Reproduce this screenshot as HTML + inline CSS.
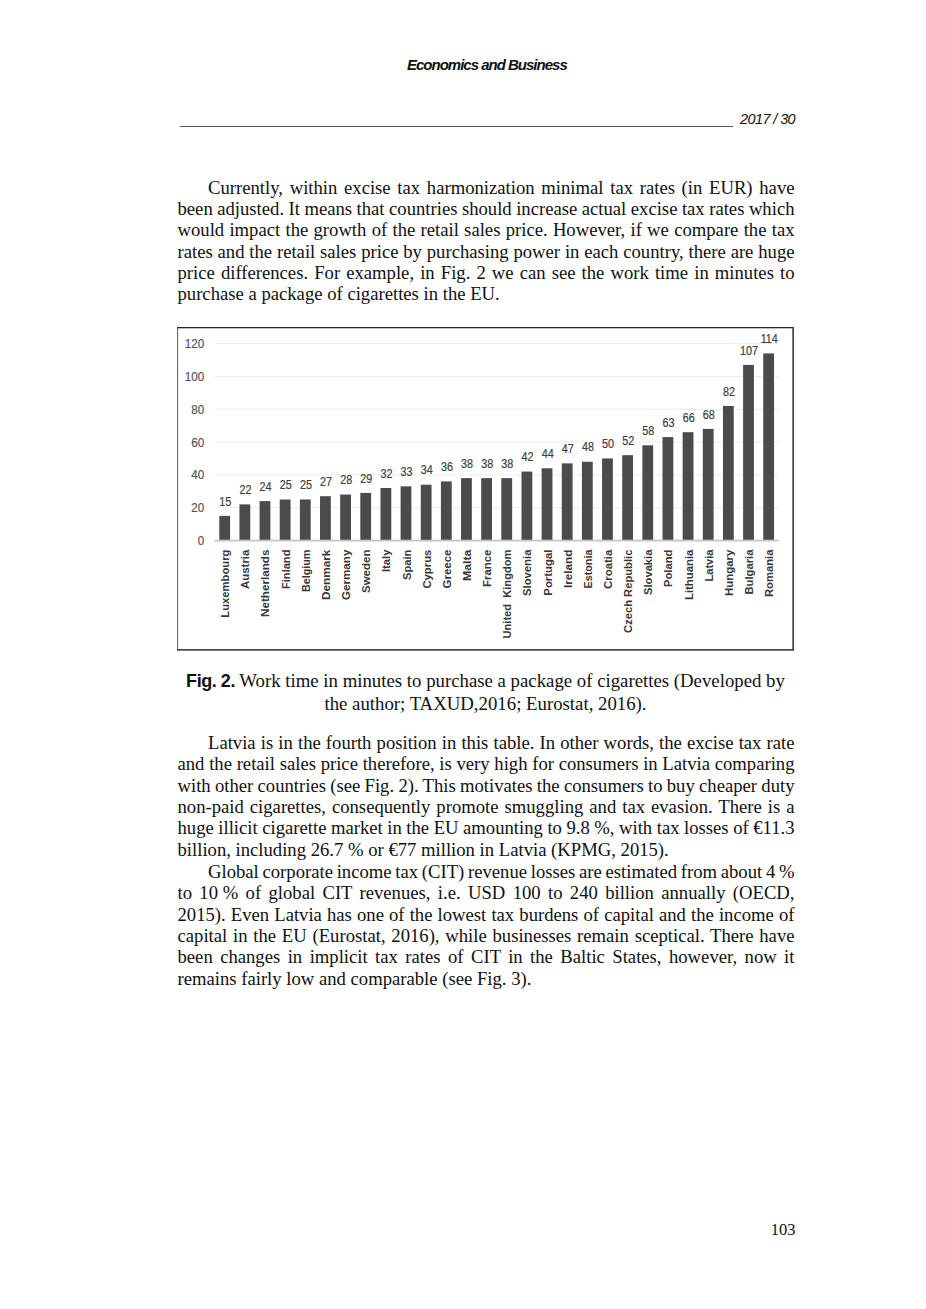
<!DOCTYPE html>
<html><head><meta charset="utf-8">
<style>
html,body{margin:0;padding:0;background:#fff;}
body{width:926px;height:1309px;position:relative;overflow:hidden;}
.hdr{position:absolute;font-family:"Liberation Sans",sans-serif;font-style:italic;color:#111;white-space:nowrap;}
.rule{position:absolute;left:179.5px;top:125.8px;width:553px;height:1px;background:#555;}
.p{position:absolute;left:177.5px;width:617px;font-family:"Liberation Serif",serif;font-size:18.67px;line-height:21.36px;color:#111;}
.p div{text-align:justify;text-align-last:justify;white-space:nowrap;}
.p div.l{text-align:left;text-align-last:left;}
.p div.i{padding-left:30.5px;}
.cap{position:absolute;left:177.5px;width:616px;font-family:"Liberation Serif",serif;font-size:18.8px;line-height:21.4px;color:#111;text-align:center;}
.cap b{font-family:"Liberation Sans",sans-serif;font-weight:bold;font-size:18px;letter-spacing:-0.45px;}
.pn{position:absolute;font-family:"Liberation Serif",serif;font-size:16.5px;color:#111;}
svg{position:absolute;left:0;top:0;}
.yl{font-family:"Liberation Sans",sans-serif;font-size:12.4px;fill:#555;stroke:#555;stroke-width:0.2px;}
.vl{font-family:"Liberation Sans",sans-serif;font-size:12px;fill:#404040;stroke:#404040;stroke-width:0.2px;}
.cl{font-family:"Liberation Sans",sans-serif;font-size:11px;font-weight:bold;fill:#383838;}
</style></head><body>
<div class="hdr" style="left:407px;top:56px;font-size:15px;font-weight:bold;letter-spacing:-1px;">Economics and Business</div>
<div class="rule"></div>
<div class="hdr" style="left:740px;top:111px;font-size:14.5px;letter-spacing:-0.6px;">2017 / 30</div>

<div class="p" style="top:176.7px;">
<div class="i">Currently, within excise tax harmonization minimal tax rates (in EUR) have</div>
<div style="word-spacing:-0.192px">been adjusted. It means that countries should increase actual excise tax rates which</div>
<div>would impact the growth of the retail sales price. However, if we compare the tax</div>
<div>rates and the retail sales price by purchasing power in each country, there are huge</div>
<div>price differences. For example, in Fig. 2 we can see the work time in minutes to</div>
<div class="l">purchase a package of cigarettes in the EU.</div>
</div>

<svg width="926" height="1309" viewBox="0 0 926 1309">
<rect x="177" y="327" width="1.1" height="323.6" fill="#6a6a6a"/>
<rect x="177" y="327" width="617" height="1.3" fill="#262626"/>
<rect x="177" y="649" width="617" height="1.7" fill="#474747"/>
<rect x="792.3" y="327" width="1.7" height="323.6" fill="#474747"/>
<rect x="214.5" y="507.18" width="563.5" height="1" fill="#ebebeb"/>
<rect x="214.5" y="474.36" width="563.5" height="1" fill="#ebebeb"/>
<rect x="214.5" y="441.54" width="563.5" height="1" fill="#ebebeb"/>
<rect x="214.5" y="408.72" width="563.5" height="1" fill="#ebebeb"/>
<rect x="214.5" y="375.90" width="563.5" height="1" fill="#ebebeb"/>
<rect x="214.5" y="343.08" width="563.5" height="1" fill="#ebebeb"/>
<text transform="translate(204.3,545.00) scale(0.94,1)" class="yl" text-anchor="end">0</text>
<text transform="translate(204.3,512.18) scale(0.94,1)" class="yl" text-anchor="end">20</text>
<text transform="translate(204.3,479.36) scale(0.94,1)" class="yl" text-anchor="end">40</text>
<text transform="translate(204.3,446.54) scale(0.94,1)" class="yl" text-anchor="end">60</text>
<text transform="translate(204.3,413.72) scale(0.94,1)" class="yl" text-anchor="end">80</text>
<text transform="translate(204.3,380.90) scale(0.94,1)" class="yl" text-anchor="end">100</text>
<text transform="translate(204.3,348.08) scale(0.94,1)" class="yl" text-anchor="end">120</text>
<rect x="219.30" y="515.88" width="10.8" height="24.62" fill="#4b4b4b"/>
<text transform="translate(225.30,505.58) scale(0.9,1)" class="vl" text-anchor="middle">15</text>
<rect x="239.45" y="504.40" width="10.8" height="36.10" fill="#4b4b4b"/>
<text transform="translate(245.45,494.10) scale(0.9,1)" class="vl" text-anchor="middle">22</text>
<rect x="259.59" y="501.12" width="10.8" height="39.38" fill="#4b4b4b"/>
<text transform="translate(265.59,490.82) scale(0.9,1)" class="vl" text-anchor="middle">24</text>
<rect x="279.74" y="499.48" width="10.8" height="41.02" fill="#4b4b4b"/>
<text transform="translate(285.74,489.18) scale(0.9,1)" class="vl" text-anchor="middle">25</text>
<rect x="299.88" y="499.48" width="10.8" height="41.02" fill="#4b4b4b"/>
<text transform="translate(305.88,489.18) scale(0.9,1)" class="vl" text-anchor="middle">25</text>
<rect x="320.03" y="496.19" width="10.8" height="44.31" fill="#4b4b4b"/>
<text transform="translate(326.03,485.89) scale(0.9,1)" class="vl" text-anchor="middle">27</text>
<rect x="340.18" y="494.55" width="10.8" height="45.95" fill="#4b4b4b"/>
<text transform="translate(346.18,484.25) scale(0.9,1)" class="vl" text-anchor="middle">28</text>
<rect x="360.32" y="492.91" width="10.8" height="47.59" fill="#4b4b4b"/>
<text transform="translate(366.32,482.61) scale(0.9,1)" class="vl" text-anchor="middle">29</text>
<rect x="380.47" y="487.99" width="10.8" height="52.51" fill="#4b4b4b"/>
<text transform="translate(386.47,477.69) scale(0.9,1)" class="vl" text-anchor="middle">32</text>
<rect x="400.61" y="486.35" width="10.8" height="54.15" fill="#4b4b4b"/>
<text transform="translate(406.61,476.05) scale(0.9,1)" class="vl" text-anchor="middle">33</text>
<rect x="420.76" y="484.71" width="10.8" height="55.79" fill="#4b4b4b"/>
<text transform="translate(426.76,474.41) scale(0.9,1)" class="vl" text-anchor="middle">34</text>
<rect x="440.91" y="481.42" width="10.8" height="59.08" fill="#4b4b4b"/>
<text transform="translate(446.91,471.12) scale(0.9,1)" class="vl" text-anchor="middle">36</text>
<rect x="461.05" y="478.14" width="10.8" height="62.36" fill="#4b4b4b"/>
<text transform="translate(467.05,467.84) scale(0.9,1)" class="vl" text-anchor="middle">38</text>
<rect x="481.20" y="478.14" width="10.8" height="62.36" fill="#4b4b4b"/>
<text transform="translate(487.20,467.84) scale(0.9,1)" class="vl" text-anchor="middle">38</text>
<rect x="501.34" y="478.14" width="10.8" height="62.36" fill="#4b4b4b"/>
<text transform="translate(507.34,467.84) scale(0.9,1)" class="vl" text-anchor="middle">38</text>
<rect x="521.49" y="471.58" width="10.8" height="68.92" fill="#4b4b4b"/>
<text transform="translate(527.49,461.28) scale(0.9,1)" class="vl" text-anchor="middle">42</text>
<rect x="541.64" y="468.30" width="10.8" height="72.20" fill="#4b4b4b"/>
<text transform="translate(547.64,458.00) scale(0.9,1)" class="vl" text-anchor="middle">44</text>
<rect x="561.78" y="463.37" width="10.8" height="77.13" fill="#4b4b4b"/>
<text transform="translate(567.78,453.07) scale(0.9,1)" class="vl" text-anchor="middle">47</text>
<rect x="581.93" y="461.73" width="10.8" height="78.77" fill="#4b4b4b"/>
<text transform="translate(587.93,451.43) scale(0.9,1)" class="vl" text-anchor="middle">48</text>
<rect x="602.07" y="458.45" width="10.8" height="82.05" fill="#4b4b4b"/>
<text transform="translate(608.07,448.15) scale(0.9,1)" class="vl" text-anchor="middle">50</text>
<rect x="622.22" y="455.17" width="10.8" height="85.33" fill="#4b4b4b"/>
<text transform="translate(628.22,444.87) scale(0.9,1)" class="vl" text-anchor="middle">52</text>
<rect x="642.37" y="445.32" width="10.8" height="95.18" fill="#4b4b4b"/>
<text transform="translate(648.37,435.02) scale(0.9,1)" class="vl" text-anchor="middle">58</text>
<rect x="662.51" y="437.12" width="10.8" height="103.38" fill="#4b4b4b"/>
<text transform="translate(668.51,426.82) scale(0.9,1)" class="vl" text-anchor="middle">63</text>
<rect x="682.66" y="432.19" width="10.8" height="108.31" fill="#4b4b4b"/>
<text transform="translate(688.66,421.89) scale(0.9,1)" class="vl" text-anchor="middle">66</text>
<rect x="702.80" y="428.91" width="10.8" height="111.59" fill="#4b4b4b"/>
<text transform="translate(708.80,418.61) scale(0.9,1)" class="vl" text-anchor="middle">68</text>
<rect x="722.95" y="405.94" width="10.8" height="134.56" fill="#4b4b4b"/>
<text transform="translate(728.95,395.64) scale(0.9,1)" class="vl" text-anchor="middle">82</text>
<rect x="743.10" y="364.91" width="10.8" height="175.59" fill="#4b4b4b"/>
<text transform="translate(749.10,354.61) scale(0.9,1)" class="vl" text-anchor="middle">107</text>
<rect x="763.24" y="353.43" width="10.8" height="187.07" fill="#4b4b4b"/>
<text transform="translate(769.24,343.13) scale(0.9,1)" class="vl" text-anchor="middle">114</text>
<rect x="214.5" y="539.70" width="564" height="1.8" fill="#c6c6c6"/>
<text transform="translate(229.20,549.6) rotate(-90)" class="cl" text-anchor="end" textLength="68.1" lengthAdjust="spacingAndGlyphs" xml:space="preserve">Luxembourg</text>
<text transform="translate(249.35,549.6) rotate(-90)" class="cl" text-anchor="end" textLength="39.4" lengthAdjust="spacingAndGlyphs" xml:space="preserve">Austria</text>
<text transform="translate(269.49,549.6) rotate(-90)" class="cl" text-anchor="end" textLength="67.4" lengthAdjust="spacingAndGlyphs" xml:space="preserve">Netherlands</text>
<text transform="translate(289.64,549.6) rotate(-90)" class="cl" text-anchor="end" textLength="39.4" lengthAdjust="spacingAndGlyphs" xml:space="preserve">Finland</text>
<text transform="translate(309.78,549.6) rotate(-90)" class="cl" text-anchor="end" textLength="42.4" lengthAdjust="spacingAndGlyphs" xml:space="preserve">Belgium</text>
<text transform="translate(329.93,549.6) rotate(-90)" class="cl" text-anchor="end" textLength="50.4" lengthAdjust="spacingAndGlyphs" xml:space="preserve">Denmark</text>
<text transform="translate(350.08,549.6) rotate(-90)" class="cl" text-anchor="end" textLength="50.4" lengthAdjust="spacingAndGlyphs" xml:space="preserve">Germany</text>
<text transform="translate(370.22,549.6) rotate(-90)" class="cl" text-anchor="end" textLength="43.4" lengthAdjust="spacingAndGlyphs" xml:space="preserve">Sweden</text>
<text transform="translate(390.37,549.6) rotate(-90)" class="cl" text-anchor="end" textLength="22.4" lengthAdjust="spacingAndGlyphs" xml:space="preserve">Italy</text>
<text transform="translate(410.51,549.6) rotate(-90)" class="cl" text-anchor="end" textLength="30.4" lengthAdjust="spacingAndGlyphs" xml:space="preserve">Spain</text>
<text transform="translate(430.66,549.6) rotate(-90)" class="cl" text-anchor="end" textLength="39.0" lengthAdjust="spacingAndGlyphs" xml:space="preserve">Cyprus</text>
<text transform="translate(450.81,549.6) rotate(-90)" class="cl" text-anchor="end" textLength="38.9" lengthAdjust="spacingAndGlyphs" xml:space="preserve">Greece</text>
<text transform="translate(470.95,549.6) rotate(-90)" class="cl" text-anchor="end" textLength="31.4" lengthAdjust="spacingAndGlyphs" xml:space="preserve">Malta</text>
<text transform="translate(491.10,549.6) rotate(-90)" class="cl" text-anchor="end" textLength="37.4" lengthAdjust="spacingAndGlyphs" xml:space="preserve">France</text>
<text transform="translate(511.24,549.6) rotate(-90)" class="cl" text-anchor="end" textLength="88.9" lengthAdjust="spacingAndGlyphs" xml:space="preserve">United  Kingdom</text>
<text transform="translate(531.39,549.6) rotate(-90)" class="cl" text-anchor="end" textLength="46.4" lengthAdjust="spacingAndGlyphs" xml:space="preserve">Slovenia</text>
<text transform="translate(551.54,549.6) rotate(-90)" class="cl" text-anchor="end" textLength="46.1" lengthAdjust="spacingAndGlyphs" xml:space="preserve">Portugal</text>
<text transform="translate(571.68,549.6) rotate(-90)" class="cl" text-anchor="end" textLength="38.4" lengthAdjust="spacingAndGlyphs" xml:space="preserve">Ireland</text>
<text transform="translate(591.83,549.6) rotate(-90)" class="cl" text-anchor="end" textLength="38.9" lengthAdjust="spacingAndGlyphs" xml:space="preserve">Estonia</text>
<text transform="translate(611.97,549.6) rotate(-90)" class="cl" text-anchor="end" textLength="39.4" lengthAdjust="spacingAndGlyphs" xml:space="preserve">Croatia</text>
<text transform="translate(632.12,549.6) rotate(-90)" class="cl" text-anchor="end" textLength="83.4" lengthAdjust="spacingAndGlyphs" xml:space="preserve">Czech Republic</text>
<text transform="translate(652.27,549.6) rotate(-90)" class="cl" text-anchor="end" textLength="45.4" lengthAdjust="spacingAndGlyphs" xml:space="preserve">Slovakia</text>
<text transform="translate(672.41,549.6) rotate(-90)" class="cl" text-anchor="end" textLength="37.4" lengthAdjust="spacingAndGlyphs" xml:space="preserve">Poland</text>
<text transform="translate(692.56,549.6) rotate(-90)" class="cl" text-anchor="end" textLength="50.4" lengthAdjust="spacingAndGlyphs" xml:space="preserve">Lithuania</text>
<text transform="translate(712.70,549.6) rotate(-90)" class="cl" text-anchor="end" textLength="31.9" lengthAdjust="spacingAndGlyphs" xml:space="preserve">Latvia</text>
<text transform="translate(732.85,549.6) rotate(-90)" class="cl" text-anchor="end" textLength="46.4" lengthAdjust="spacingAndGlyphs" xml:space="preserve">Hungary</text>
<text transform="translate(753.00,549.6) rotate(-90)" class="cl" text-anchor="end" textLength="44.9" lengthAdjust="spacingAndGlyphs" xml:space="preserve">Bulgaria</text>
<text transform="translate(773.14,549.6) rotate(-90)" class="cl" text-anchor="end" textLength="47.4" lengthAdjust="spacingAndGlyphs" xml:space="preserve">Romania</text>
</svg>

<div class="cap" style="top:670.3px;">
<div><b>Fig. 2.</b> Work time in minutes to purchase a package of cigarettes (Developed by</div>
<div>the author; TAXUD,2016; Eurostat, 2016).</div>
</div>

<div class="p" style="top:731.8px;">
<div class="i">Latvia is in the fourth position in this table. In other words, the excise tax rate</div>
<div>and the retail sales price therefore, is very high for consumers in Latvia comparing</div>
<div style="word-spacing:-0.399px">with other countries (see Fig. 2). This motivates the consumers to buy cheaper duty</div>
<div>non-paid cigarettes, consequently promote smuggling and tax evasion. There is a</div>
<div style="word-spacing:-0.152px">huge illicit cigarette market in the EU amounting to 9.8 %, with tax losses of €11.3</div>
<div class="l">billion, including 26.7 % or €77 million in Latvia (KPMG, 2015).</div>
</div>

<div class="p" style="top:861px;">
<div class="i" style="word-spacing:-0.964px">Global corporate income tax (CIT) revenue losses are estimated from about 4 %</div>
<div>to <span style="display:inline-block">10&nbsp;%</span> of global CIT revenues, i.e. USD 100 to 240 billion annually (OECD,</div>
<div>2015). Even Latvia has one of the lowest tax burdens of capital and the income of</div>
<div>capital in the EU (Eurostat, 2016), while businesses remain sceptical. There have</div>
<div>been changes in implicit tax rates of CIT in the Baltic States, however, now it</div>
<div class="l">remains fairly low and comparable (see Fig. 3).</div>
</div>

<div class="pn" style="left:770.8px;top:1220px;">103</div>
</body></html>
